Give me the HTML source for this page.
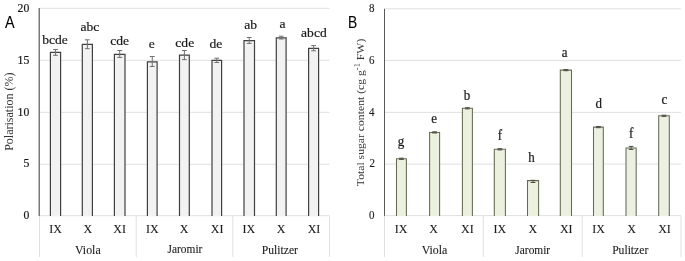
<!DOCTYPE html><html><head><meta charset="utf-8"><style>html,body{margin:0;padding:0;background:#fff;}svg{display:block;will-change:transform;filter:blur(0.35px);}text{stroke:#1a1a1a;stroke-width:0.2px;}</style></head><body>
<svg width="685" height="261" viewBox="0 0 685 261" font-family='"Liberation Serif", serif' fill="#1a1a1a">
<rect width="685" height="261" fill="#fff"/>
<path d="M39.5 164.30H329.5M39.5 112.30H329.5M39.5 60.30H329.5M39.5 8.30H329.5M39.5 215.7H329.5M39.50 216V257M136.17 216V257M232.83 216V257M329.50 216V257" stroke="#e0e0e0" stroke-width="1" fill="none"/>
<rect x="50.40" y="52.40" width="10.20" height="163.60" fill="#f2f2f2"/>
<path d="M50.40 216V52.40H60.60V216" fill="none" stroke="#404040" stroke-width="1.2"/>
<rect x="82.30" y="44.40" width="10.10" height="171.60" fill="#f2f2f2"/>
<path d="M82.30 216V44.40H92.40V216" fill="none" stroke="#404040" stroke-width="1.2"/>
<rect x="114.40" y="54.40" width="10.60" height="161.60" fill="#f2f2f2"/>
<path d="M114.40 216V54.40H125.00V216" fill="none" stroke="#404040" stroke-width="1.2"/>
<rect x="147.40" y="61.80" width="9.70" height="154.20" fill="#f2f2f2"/>
<path d="M147.40 216V61.80H157.10V216" fill="none" stroke="#404040" stroke-width="1.2"/>
<rect x="179.50" y="55.10" width="9.80" height="160.90" fill="#f2f2f2"/>
<path d="M179.50 216V55.10H189.30V216" fill="none" stroke="#404040" stroke-width="1.2"/>
<rect x="212.00" y="60.40" width="9.60" height="155.60" fill="#f2f2f2"/>
<path d="M212.00 216V60.40H221.60V216" fill="none" stroke="#404040" stroke-width="1.2"/>
<rect x="244.00" y="40.60" width="10.50" height="175.40" fill="#f2f2f2"/>
<path d="M244.00 216V40.60H254.50V216" fill="none" stroke="#404040" stroke-width="1.2"/>
<rect x="276.30" y="37.80" width="9.80" height="178.20" fill="#f2f2f2"/>
<path d="M276.30 216V37.80H286.10V216" fill="none" stroke="#404040" stroke-width="1.2"/>
<rect x="308.60" y="48.40" width="10.00" height="167.60" fill="#f2f2f2"/>
<path d="M308.60 216V48.40H318.60V216" fill="none" stroke="#404040" stroke-width="1.2"/>
<path d="M55.50 49.60V55.30M53.10 49.60H57.90M53.10 55.30H57.90" stroke="#707070" stroke-width="1.0" fill="none"/>
<path d="M87.35 39.80V48.70M84.95 39.80H89.75M84.95 48.70H89.75" stroke="#707070" stroke-width="1.0" fill="none"/>
<path d="M119.70 50.50V57.40M117.30 50.50H122.10M117.30 57.40H122.10" stroke="#707070" stroke-width="1.0" fill="none"/>
<path d="M152.25 56.50V66.50M149.85 56.50H154.65M149.85 66.50H154.65" stroke="#707070" stroke-width="1.0" fill="none"/>
<path d="M184.40 50.50V59.60M182.00 50.50H186.80M182.00 59.60H186.80" stroke="#707070" stroke-width="1.0" fill="none"/>
<path d="M216.80 58.20V62.50M214.40 58.20H219.20M214.40 62.50H219.20" stroke="#707070" stroke-width="1.0" fill="none"/>
<path d="M249.25 37.50V43.40M246.85 37.50H251.65M246.85 43.40H251.65" stroke="#707070" stroke-width="1.0" fill="none"/>
<path d="M281.20 36.20V39.00M278.80 36.20H283.60M278.80 39.00H283.60" stroke="#707070" stroke-width="1.0" fill="none"/>
<path d="M313.60 45.60V50.80M311.20 45.60H316.00M311.20 50.80H316.00" stroke="#707070" stroke-width="1.0" fill="none"/>
<path d="M39.2 8V216" stroke="#595959" stroke-width="1.2"/>
<text transform="translate(29.30 218.84) scale(1.000 1.050)" text-anchor="end" font-size="11.75">0</text>
<text transform="translate(29.30 167.44) scale(1.000 1.050)" text-anchor="end" font-size="11.75">5</text>
<text transform="translate(29.30 115.60) scale(1.000 1.050)" text-anchor="end" font-size="11.75">10</text>
<text transform="translate(29.30 63.60) scale(1.000 1.050)" text-anchor="end" font-size="11.75">15</text>
<text transform="translate(29.30 11.60) scale(1.000 1.050)" text-anchor="end" font-size="11.75">20</text>
<text transform="translate(54.95 44.20) scale(1.030 1.020)" text-anchor="middle" font-size="13.2">bcde</text>
<text transform="translate(89.95 30.70) scale(1.030 1.020)" text-anchor="middle" font-size="13.2">abc</text>
<text transform="translate(119.55 45.26) scale(1.030 1.020)" text-anchor="middle" font-size="13.2">cde</text>
<text transform="translate(151.75 48.32) scale(1.030 1.020)" text-anchor="middle" font-size="13.2">e</text>
<text transform="translate(184.76 46.64) scale(1.030 1.020)" text-anchor="middle" font-size="13.2">cde</text>
<text transform="translate(215.80 47.90) scale(1.030 1.020)" text-anchor="middle" font-size="13.2">de</text>
<text transform="translate(250.63 29.38) scale(1.030 1.020)" text-anchor="middle" font-size="13.2">ab</text>
<text transform="translate(282.60 27.82) scale(1.030 1.020)" text-anchor="middle" font-size="13.2">a</text>
<text transform="translate(313.90 37.04) scale(1.030 1.020)" text-anchor="middle" font-size="13.2">abcd</text>
<text transform="translate(55.61 233.10)" text-anchor="middle" font-size="12" style="stroke-width:0.1px">IX</text>
<text transform="translate(87.83 233.10)" text-anchor="middle" font-size="12" style="stroke-width:0.1px">X</text>
<text transform="translate(119.70 233.10)" text-anchor="middle" font-size="12" style="stroke-width:0.1px">XI</text>
<text transform="translate(152.28 233.10)" text-anchor="middle" font-size="12" style="stroke-width:0.1px">IX</text>
<text transform="translate(184.06 233.10)" text-anchor="middle" font-size="12" style="stroke-width:0.1px">X</text>
<text transform="translate(217.12 233.10)" text-anchor="middle" font-size="12" style="stroke-width:0.1px">XI</text>
<text transform="translate(248.94 233.10)" text-anchor="middle" font-size="12" style="stroke-width:0.1px">IX</text>
<text transform="translate(281.17 233.10)" text-anchor="middle" font-size="12" style="stroke-width:0.1px">X</text>
<text transform="translate(313.99 233.10)" text-anchor="middle" font-size="12" style="stroke-width:0.1px">XI</text>
<text transform="translate(87.83 253.50) scale(0.990 1.000)" text-anchor="middle" font-size="12" style="stroke-width:0.1px">Viola</text>
<text transform="translate(184.94 253.18) scale(0.950 1.000)" text-anchor="middle" font-size="12" style="stroke-width:0.1px">Jaromir</text>
<text transform="translate(279.89 253.50) scale(0.970 1.000)" text-anchor="middle" font-size="12" style="stroke-width:0.1px">Pulitzer</text>
<path d="M384.5 164.12H681M384.5 112.35H681M384.5 60.58H681M384.5 8.80H681M384.5 215.6H681M384.50 215.9V257M483.33 215.9V257M582.17 215.9V257M681.00 215.9V257" stroke="#e0e0e0" stroke-width="1" fill="none"/>
<rect x="396.50" y="158.80" width="9.90" height="57.10" fill="#ebf1de"/>
<path d="M396.50 215.9V158.80H406.40V215.9" fill="none" stroke="#656a55" stroke-width="1.05"/>
<rect x="429.60" y="132.40" width="10.00" height="83.50" fill="#ebf1de"/>
<path d="M429.60 215.9V132.40H439.60V215.9" fill="none" stroke="#656a55" stroke-width="1.05"/>
<rect x="462.40" y="108.30" width="10.00" height="107.60" fill="#ebf1de"/>
<path d="M462.40 215.9V108.30H472.40V215.9" fill="none" stroke="#656a55" stroke-width="1.05"/>
<rect x="494.30" y="149.30" width="11.10" height="66.60" fill="#ebf1de"/>
<path d="M494.30 215.9V149.30H505.40V215.9" fill="none" stroke="#656a55" stroke-width="1.05"/>
<rect x="527.50" y="180.60" width="11.10" height="35.30" fill="#ebf1de"/>
<path d="M527.50 215.9V180.60H538.60V215.9" fill="none" stroke="#656a55" stroke-width="1.05"/>
<rect x="560.30" y="70.10" width="11.20" height="145.80" fill="#ebf1de"/>
<path d="M560.30 215.9V70.10H571.50V215.9" fill="none" stroke="#656a55" stroke-width="1.05"/>
<rect x="593.50" y="127.10" width="9.80" height="88.80" fill="#ebf1de"/>
<path d="M593.50 215.9V127.10H603.30V215.9" fill="none" stroke="#656a55" stroke-width="1.05"/>
<rect x="626.00" y="147.90" width="10.20" height="68.00" fill="#ebf1de"/>
<path d="M626.00 215.9V147.90H636.20V215.9" fill="none" stroke="#656a55" stroke-width="1.05"/>
<rect x="658.70" y="115.80" width="10.60" height="100.10" fill="#ebf1de"/>
<path d="M658.70 215.9V115.80H669.30V215.9" fill="none" stroke="#656a55" stroke-width="1.05"/>
<path d="M401.45 158.20V159.40M399.05 158.20H403.85M399.05 159.40H403.85" stroke="#4d5045" stroke-width="1.0" fill="none"/>
<path d="M434.60 131.80V133.00M432.20 131.80H437.00M432.20 133.00H437.00" stroke="#4d5045" stroke-width="1.0" fill="none"/>
<path d="M467.40 107.70V108.90M465.00 107.70H469.80M465.00 108.90H469.80" stroke="#4d5045" stroke-width="1.0" fill="none"/>
<path d="M499.85 148.70V149.90M497.45 148.70H502.25M497.45 149.90H502.25" stroke="#4d5045" stroke-width="1.0" fill="none"/>
<path d="M533.05 180.30V182.50M530.65 180.30H535.45M530.65 182.50H535.45" stroke="#4d5045" stroke-width="1.0" fill="none"/>
<path d="M565.90 69.50V70.70M563.50 69.50H568.30M563.50 70.70H568.30" stroke="#4d5045" stroke-width="1.0" fill="none"/>
<path d="M598.40 126.50V127.70M596.00 126.50H600.80M596.00 127.70H600.80" stroke="#4d5045" stroke-width="1.0" fill="none"/>
<path d="M631.10 146.40V149.40M628.70 146.40H633.50M628.70 149.40H633.50" stroke="#4d5045" stroke-width="1.0" fill="none"/>
<path d="M664.00 115.20V116.40M661.60 115.20H666.40M661.60 116.40H666.40" stroke="#4d5045" stroke-width="1.0" fill="none"/>
<path d="M384.5 8.8V215.9" stroke="#595959" stroke-width="1"/>
<text transform="translate(374.52 219.14) scale(1.000 1.200)" text-anchor="end" font-size="11" style="stroke-width:0.1px">0</text>
<text transform="translate(375.08 167.21) scale(1.000 1.200)" text-anchor="end" font-size="11" style="stroke-width:0.1px">2</text>
<text transform="translate(374.60 115.75) scale(1.000 1.200)" text-anchor="end" font-size="11" style="stroke-width:0.1px">4</text>
<text transform="translate(374.60 63.98) scale(1.000 1.200)" text-anchor="end" font-size="11" style="stroke-width:0.1px">6</text>
<text transform="translate(374.60 11.96) scale(1.000 1.200)" text-anchor="end" font-size="11" style="stroke-width:0.1px">8</text>
<text transform="translate(400.89 146.26) scale(1.000 1.120)" text-anchor="middle" font-size="13">g</text>
<text transform="translate(434.13 122.60) scale(1.000 1.120)" text-anchor="middle" font-size="13">e</text>
<text transform="translate(467.02 100.04) scale(1.000 1.120)" text-anchor="middle" font-size="13">b</text>
<text transform="translate(500.00 140.30) scale(1.000 1.120)" text-anchor="middle" font-size="13">f</text>
<text transform="translate(531.50 162.04) scale(1.000 1.120)" text-anchor="middle" font-size="13">h</text>
<text transform="translate(564.75 57.10) scale(1.000 1.120)" text-anchor="middle" font-size="13">a</text>
<text transform="translate(598.85 108.40) scale(1.000 1.120)" text-anchor="middle" font-size="13">d</text>
<text transform="translate(631.11 137.98) scale(1.000 1.120)" text-anchor="middle" font-size="13">f</text>
<text transform="translate(664.45 104.48) scale(1.000 1.120)" text-anchor="middle" font-size="13">c</text>
<text transform="translate(400.97 233.30)" text-anchor="middle" font-size="12" style="stroke-width:0.1px">IX</text>
<text transform="translate(433.60 233.30)" text-anchor="middle" font-size="12" style="stroke-width:0.1px">X</text>
<text transform="translate(467.42 233.30)" text-anchor="middle" font-size="12" style="stroke-width:0.1px">XI</text>
<text transform="translate(499.81 233.30)" text-anchor="middle" font-size="12" style="stroke-width:0.1px">IX</text>
<text transform="translate(532.75 233.30)" text-anchor="middle" font-size="12" style="stroke-width:0.1px">X</text>
<text transform="translate(566.21 233.30)" text-anchor="middle" font-size="12" style="stroke-width:0.1px">XI</text>
<text transform="translate(598.64 233.30)" text-anchor="middle" font-size="12" style="stroke-width:0.1px">IX</text>
<text transform="translate(631.58 233.30)" text-anchor="middle" font-size="12" style="stroke-width:0.1px">X</text>
<text transform="translate(664.53 233.30)" text-anchor="middle" font-size="12" style="stroke-width:0.1px">XI</text>
<text transform="translate(434.52 253.70) scale(0.990 1.000)" text-anchor="middle" font-size="12" style="stroke-width:0.1px">Viola</text>
<text transform="translate(532.75 253.54) scale(0.950 1.000)" text-anchor="middle" font-size="12" style="stroke-width:0.1px">Jaromir</text>
<text transform="translate(630.22 253.70) scale(0.970 1.000)" text-anchor="middle" font-size="12" style="stroke-width:0.1px">Pulitzer</text>
<text transform="translate(5.04 27.70) scale(0.930 1.060)" font-size="15.5" font-family='"Liberation Sans", sans-serif' fill="#000" style="stroke-width:0.1px">A</text>
<text transform="translate(348.08 28.08) scale(0.920 1.070)" font-size="15" font-family='"Liberation Sans", sans-serif' fill="#000" style="stroke-width:0.1px">B</text>
<text transform="translate(13.28 111.70) rotate(-90)" text-anchor="middle" font-size="12" fill="#333" style="stroke-width:0">Polarisation (%)</text>
<text transform="translate(364.20 112.45) rotate(-90) scale(1.064 1.000)" text-anchor="middle" font-size="11" fill="#333" style="stroke-width:0">Total sugar content (cg g<tspan dy="-4" font-size="8">-1</tspan><tspan dy="4"> FW)</tspan></text>
</svg></body></html>
